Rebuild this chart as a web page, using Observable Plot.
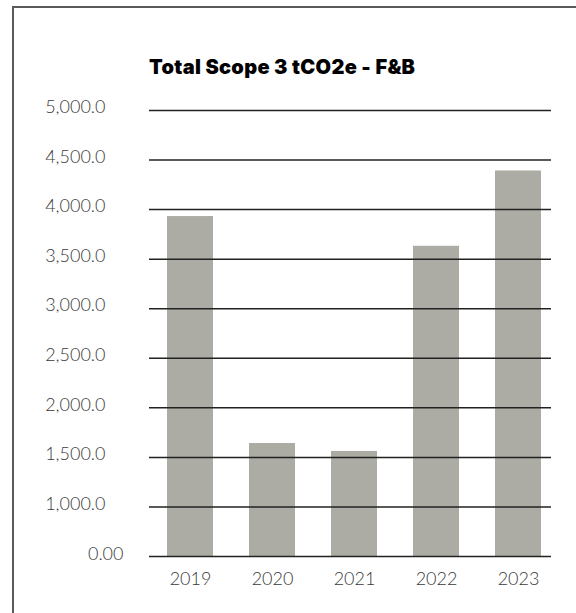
<!DOCTYPE html>
<html>
<head>
<meta charset="utf-8">
<script src="https://cdn.jsdelivr.net/npm/d3@7"></script>
<script src="https://cdn.jsdelivr.net/npm/@observablehq/plot@0.6"></script>
<style>
  html, body { margin: 0; padding: 0; background: #fff; overflow: hidden; }
  #wrap { position: relative; width: 576px; height: 613px; }
  #frame { position: absolute; left: 12px; top: 6px; width: 700px; height: 800px;
           border-top: 2px solid #5a5a5a; border-left: 2px solid #5a5a5a; box-sizing: border-box; }
  #title { position: absolute; left: 149px; top: 55px; font-family: Inter, sans-serif;
           font-weight: 900; font-size: 20px; color: #000; white-space: nowrap; letter-spacing: 0.3px; }
  #chart { position: absolute; left: 0; top: 0; }
</style>
</head>
<body>
<div id="wrap">
  <div id="frame"></div>
  <div id="chart"></div>
  <div id="title">Total Scope 3 tCO2e - F&amp;B</div>
</div>
<script>
const years = ["2019", "2020", "2021", "2022", "2023"];
const values = [3930, 1640, 1560, 3630, 4390];
const gridTicks = [0, 1000, 1500, 2000, 2500, 3000, 3500, 4000, 4500, 5000];

const data = years.map((year, i) => ({year, value: values[i]}));

// axis of the reference: equal spacing between 0, 1000, 1500, ..., 5000
const toSteps = v => (v <= 1000 ? v / 1000 : 1 + (v - 1000) / 500);

const chart = Plot.plot({
  width: 576,
  height: 613,
  marginLeft: 149,
  marginRight: 25,
  marginTop: 110,
  marginBottom: 57,
  style: {fontFamily: "Lato, sans-serif", fontSize: "18px", fontWeight: 300, color: "#3a3a3a", background: "transparent"},
  x: {domain: years, paddingInner: 0.444, paddingOuter: 0.151, align: 0.64, label: null},
  y: {transform: toSteps, domain: [0, 9], label: null},
  marks: [
    Plot.barY(data, {x: "year", y: "value", fill: "#acaca4"}),
    Plot.ruleY(gridTicks, {stroke: "#222", strokeWidth: 1.5}),
    Plot.axisX({tickSize: 0, tickPadding: 16, label: null, fill: "#3a3a3a"}),
    Plot.axisY(gridTicks.filter(d => d > 0), {tickSize: 0, tickPadding: 44, tickFormat: d3.format(",.1f"), dy: -3, label: null, fill: "#3a3a3a"}),
    Plot.axisY([0], {tickSize: 0, tickPadding: 26, tickFormat: () => "0.00", dy: -2, label: null, fill: "#3a3a3a"})
  ]
});
document.getElementById("chart").appendChild(chart);
</script>
</body>
</html>
